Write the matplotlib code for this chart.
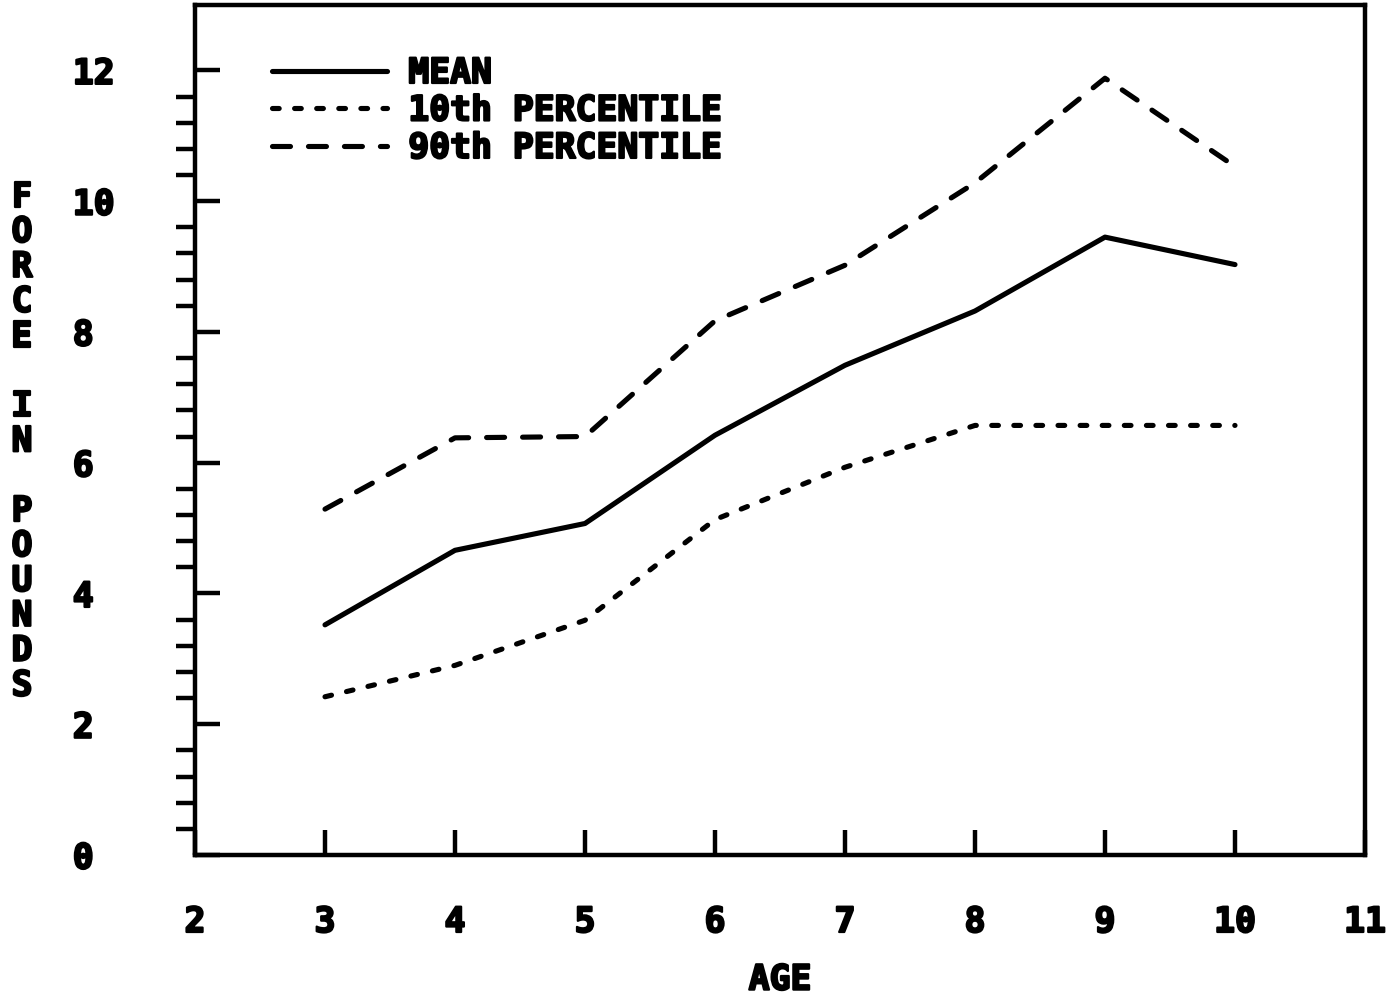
import numpy as np
import matplotlib
matplotlib.use("Agg")
import matplotlib.pyplot as plt
import matplotlib.patheffects as pe
from matplotlib.ticker import FixedLocator

# ages and force values
ages = [3, 4, 5, 6, 7, 8, 9, 10]
mean = [3.52, 4.66, 5.07, 6.42, 7.49, 8.32, 9.45, 9.03]
p10 = [2.42, 2.90, 3.59, 5.13, 5.93, 6.57, 6.57, 6.57]
p90 = [5.29, 6.38, 6.40, 8.17, 9.02, 10.28, 11.88, 10.53]

xticks = list(range(2, 12))
yticks = [0, 2, 4, 6, 8, 10, 12]
yminor = [v for v in np.arange(0.4, 12.0, 0.4).round(1) if v % 2 != 0]

font = "DejaVu Sans Mono"
fs = 25
heavy = [pe.withStroke(linewidth=1.6, foreground="black")]

fig = plt.figure(figsize=(13.88, 10), dpi=100)
ax = fig.add_axes([195 / 1388, 145 / 1000, 1170 / 1388, 850 / 1000])

lw = 3.7
ax.plot(ages, mean, color="black", lw=lw, solid_capstyle="round", label="MEAN")
ax.plot(ages, p10, color="black", lw=lw, dashes=(1.3, 3.0), dash_capstyle="round",
        label="10th PERCENTILE")
ax.plot(ages, p90, color="black", lw=lw, dashes=(3.5, 3.5), dash_capstyle="round",
        label="90th PERCENTILE")

ax.set_xlim(2, 11)
ax.set_ylim(0, 13)

for s in ax.spines.values():
    s.set_linewidth(3.2)

ax.xaxis.set_major_locator(FixedLocator(xticks))
ax.yaxis.set_major_locator(FixedLocator(yticks))
ax.yaxis.set_minor_locator(FixedLocator(yminor))
ax.set_xticklabels([str(t) for t in xticks], fontfamily=font, fontweight="bold", fontsize=fs,
                   path_effects=heavy)
ax.set_yticklabels([str(t) for t in yticks], fontfamily=font, fontweight="bold", fontsize=fs,
                   ha="left", path_effects=heavy)
ax.tick_params(axis="x", which="major", direction="in", length=18, width=3.2, pad=36)
ax.tick_params(axis="y", which="major", direction="in", length=18, width=3.2, pad=88)
ax.tick_params(axis="y", which="minor", direction="out", length=14, width=3.2)

ax.set_xlabel("AGE", fontfamily=font, fontweight="bold", fontsize=fs, labelpad=17,
              path_effects=heavy)

# vertical stacked y label
ylab = "FORCE IN POUNDS"
for i, ch in enumerate(ylab):
    fig.text(22 / 1388, 1 - (197 + i * 34.9) / 1000, ch, fontfamily=font,
             fontweight="bold", fontsize=fs, ha="center", va="center",
             path_effects=heavy)

leg = ax.legend(loc="upper left", bbox_to_anchor=(0.066, 0.94), frameon=False,
                prop={"family": font, "weight": "bold", "size": fs},
                handlelength=3.3, handletextpad=0.62, labelspacing=0.1,
                borderpad=0, borderaxespad=0)
for t in leg.get_texts():
    t.set_path_effects(heavy)

fig.savefig("out.png", dpi=100)
